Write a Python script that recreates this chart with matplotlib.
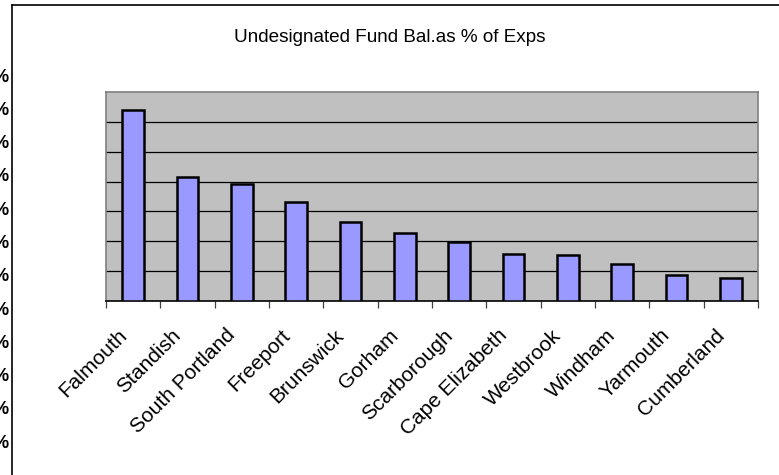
import matplotlib
matplotlib.use("Agg")
import matplotlib.pyplot as plt
import matplotlib.transforms as mtrans
from matplotlib.lines import Line2D
import numpy as np

plt.rcParams['font.family'] = ['Liberation Sans', 'DejaVu Sans']

towns = ["Falmouth", "Standish", "South Portland", "Freeport", "Brunswick", "Gorham",
         "Scarborough", "Cape Elizabeth", "Westbrook", "Windham", "Yarmouth", "Cumberland"]
fund_pct = [6.39, 4.15, 3.93, 3.32, 2.65, 2.27, 1.96, 1.59, 1.53, 1.25, 0.86, 0.77]
side_labels = ["%"] * 12

W, H = 779, 475
fig = plt.figure(figsize=(W / 100, H / 100), dpi=100)
fig.patch.set_facecolor("white")

# plot area in pixels: x 106..758, y 92..301
ax = fig.add_axes([106 / W, 1 - 301 / H, (758 - 106) / W, (301 - 92) / H])
ax.set_facecolor("#C0C0C0")

x = np.arange(len(towns))
ax.bar(x, fund_pct, width=0.4, color="#9999FF", edgecolor="black", linewidth=1.8, zorder=3)

ax.set_xlim(-0.5, len(towns) - 0.5)
ax.set_ylim(0, 7)
ax.set_yticks(np.arange(1, 7))
ax.yaxis.grid(True, color="black", linewidth=0.9, zorder=1)
ax.tick_params(axis="y", length=0, labelleft=False)

ax.set_xticks(x)
ax.set_xticklabels(towns, rotation=45, ha="right", va="top", rotation_mode="anchor", fontsize=15)
ax.tick_params(axis="x", which="major", length=0, pad=12)
shift = mtrans.ScaledTranslation(-16 / 100, -8 / 100, fig.dpi_scale_trans)
for lab in ax.get_xticklabels():
    lab.set_transform(lab.get_transform() + shift)
ax.set_xticks(np.arange(-0.5, len(towns)), minor=True)
ax.tick_params(axis="x", which="minor", length=5, width=0.9, color="#404040", direction="out")

for side in ["top", "left", "right"]:
    ax.spines[side].set_color("#808080")
    ax.spines[side].set_linewidth(1.2)
ax.spines["bottom"].set_color("black")
ax.spines["bottom"].set_linewidth(1.2)

fig.text(390 / W, 1 - 37 / H, "Undesignated Fund Bal.as % of Exps", ha="center", va="center", fontsize=13.6)

# outer chart frame (only top and left visible)
fig.add_artist(Line2D([12 / W, 1], [1 - 5 / H, 1 - 5 / H], transform=fig.transFigure, color="black", linewidth=1.2))
fig.add_artist(Line2D([12 / W, 12 / W], [0, 1 - 5 / H], transform=fig.transFigure, color="black", linewidth=1.2))

# clipped axis labels left of the frame
for i, lab in enumerate(side_labels):
    fig.text(9 / W, 1 - (77 + 33.3 * i) / H, lab, ha="right", va="center", fontsize=13, fontweight="bold")

fig.savefig("out.png", dpi=100)
